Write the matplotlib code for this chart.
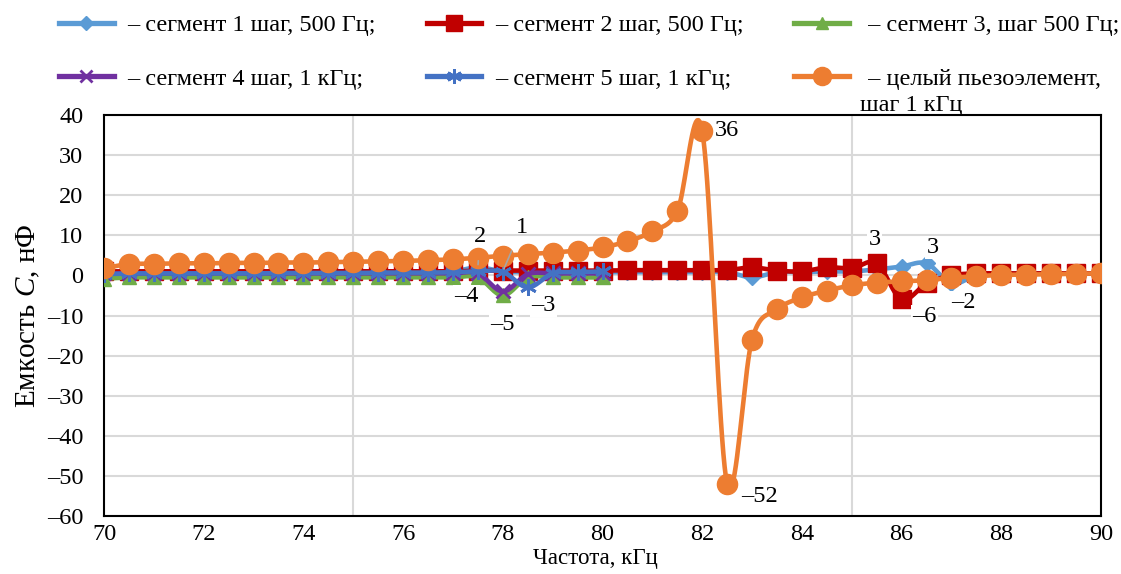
import numpy as np
import matplotlib
matplotlib.use("Agg")
import matplotlib.pyplot as plt
from matplotlib.lines import Line2D

plt.rcParams['font.family'] = ['Liberation Serif', 'DejaVu Serif']
plt.rcParams['mathtext.fontset'] = 'custom'
plt.rcParams['mathtext.rm'] = 'Liberation Serif'
plt.rcParams['mathtext.it'] = 'Liberation Serif:italic'

# ---------------- data ----------------
freq_full = [70 + 0.5 * i for i in range(41)]          # 70 ... 90 kHz
freq_half = [70 + 0.5 * i for i in range(21)]          # 70 ... 80 kHz

seg1 = [1.0, 1.0, 1.0, 1.0, 1.0, 1.0, 1.0, 1.0, 1.0, 1.0,
        1.0, 1.0, 1.0, 1.0, 1.0, 2.0, 1.0, 0.8, 0.8, 0.8,
        0.8, 0.8, 0.8, 0.8, 0.8, 0.8, -0.5, 0.8, 0.8, 1.0,
        1.0, 1.5, 2.2, 3.0, -2.0, 0.0, 0.5, 0.5, 0.5, 0.5, 0.5]
seg2 = [1.0, 1.0, 1.0, 1.0, 1.0, 1.0, 1.0, 1.0, 1.0, 1.0,
        1.0, 1.0, 1.0, 1.0, 1.0, 1.2, 1.2, 1.2, 1.2, 1.2,
        1.2, 1.3, 1.3, 1.3, 1.3, 1.3, 2.0, 1.2, 1.0, 2.0,
        1.8, 3.0, -6.0, -2.0, 0.0, 0.5, 0.5, 0.5, 0.5, 0.5, 0.5]
seg3 = [-0.8, -0.5, -0.5, -0.5, -0.5, -0.5, -0.5, -0.5, -0.5, -0.5,
        -0.5, -0.5, -0.5, -0.5, -0.5, -0.5, -5.0, -0.5, -0.5, -0.5, -0.5]
seg4 = [0.5, 0.5, 0.5, 0.5, 0.5, 0.5, 0.5, 0.5, 0.5, 0.5,
        0.5, 0.5, 0.5, 0.5, 0.5, 0.5, -4.0, 0.3, 0.5, 0.5, 0.5]
seg5 = [0.3, 0.5, 0.5, 0.5, 0.5, 0.5, 0.5, 0.6, 0.6, 0.6,
        0.6, 0.7, 0.7, 0.7, 0.8, 1.0, 0.9, -3.0, 0.5, 0.8, 1.0]
whole = [1.8, 2.8, 2.9, 3.0, 3.0, 3.1, 3.1, 3.2, 3.2, 3.3,
         3.4, 3.5, 3.6, 3.8, 4.0, 4.4, 4.9, 5.3, 5.7, 6.2,
         7.0, 8.5, 11.0, 16.0, 36.0, -52.0, -16.0, -8.5, -5.5, -3.8,
         -2.5, -1.8, -1.5, -1.2, -0.6, -0.2, 0.1, 0.2, 0.3, 0.4, 0.5]

labels = ["– сегмент 1 шаг, 500 Гц;", "– сегмент 2 шаг, 500 Гц;",
          " – сегмент 3, шаг 500 Гц;", "– сегмент 4 шаг, 1 кГц;",
          "– сегмент 5 шаг, 1 кГц;", " – целый пьезоэлемент,"]
label_cont = "шаг 1 кГц"

x_ticks = [70, 72, 74, 76, 78, 80, 82, 84, 86, 88, 90]
x_grid = [75, 80, 85]
y_ticks = [40, 30, 20, 10, 0, -10, -20, -30, -40, -50, -60]

# (series, index, text, dx px, dy px, leader)
point_labels = [
    ("whole", 24, "36", 25, 1, False),
    ("whole", 25, "–52", 32, -13, False),
    ("seg1", 15, "2", 2, 31, True),
    ("seg1", 16, "1", 19, 44, True),
    ("seg4", 16, "–4", -36, -5, False),
    ("seg3", 16, "–5", 0, -29, False),
    ("seg5", 17, "–3", 16, -18, False),
    ("seg2", 31, "3", -2, 24, False),
    ("seg2", 32, "–6", 23, -17, False),
    ("seg1", 33, "3", 6, 16, False),
    ("seg1", 34, "–2", 12, -19, False),
]


def smooth(x, y, n=20):
    """Excel-like smoothed line (Catmull-Rom Bezier)."""
    x = np.asarray(x, float)
    y = np.asarray(y, float)
    P = np.column_stack([x, y])
    out = []
    for i in range(len(P) - 1):
        p0 = P[i - 1] if i > 0 else P[i]
        p1 = P[i]
        p2 = P[i + 1]
        p3 = P[i + 2] if i + 2 < len(P) else P[i + 1]
        c1 = p1 + (p2 - p0) / 6.0
        c2 = p2 - (p3 - p1) / 6.0
        t = np.linspace(0, 1, n, endpoint=(i == len(P) - 2))[:, None]
        b = ((1 - t) ** 3) * p1 + 3 * ((1 - t) ** 2) * t * c1 + 3 * (1 - t) * t ** 2 * c2 + t ** 3 * p2
        out.append(b)
    B = np.vstack(out)
    return B[:, 0], B[:, 1]


FS = 17.5
W, H = 1121, 574
fig = plt.figure(figsize=(W / 100, H / 100), dpi=100)
ax = fig.add_axes([104 / W, 1 - 516 / H, (1101 - 104) / W, (516 - 115) / H])

styles = {
    "seg1": dict(color="#5B9BD5", marker="D", ms=8, mew=1, z=3),
    "seg2": dict(color="#C00000", marker="s", ms=12.5, mew=1, z=4),
    "seg3": dict(color="#70AD47", marker="^", ms=10, mew=1, z=5),
    "seg4": dict(color="#7030A0", marker="x", ms=10, mew=2, z=6),
    "seg5": dict(color="#4472C4", marker=(6, 2, 0), ms=12, mew=2, z=7),
    "whole": dict(color="#ED7D31", marker="o", ms=14.5, mew=1, z=8),
}
series = {
    "seg1": (freq_full, seg1),
    "seg2": (freq_full, seg2),
    "seg3": (freq_half, seg3),
    "seg4": (freq_half, seg4),
    "seg5": (freq_half, seg5),
    "whole": (freq_full, whole),
}

handles = {}
for name, (xs, ys) in series.items():
    st = styles[name]
    sx, sy = smooth(xs, ys)
    ax.plot(sx, sy, color=st["color"], lw=3.3, zorder=st["z"], solid_capstyle="round")
    ax.plot(xs, ys, linestyle="none", marker=st["marker"], ms=st["ms"],
            color=st["color"], mec=st["color"], mew=st["mew"], zorder=st["z"])
    handles[name] = Line2D([], [], color=st["color"], lw=3.8, marker=st["marker"],
                           ms=st["ms"] * 0.9, mew=st["mew"], mec=st["color"])

for name, idx, txt, dx, dy, leader in point_labels:
    xs, ys = series[name]
    kw = {}
    if leader:
        kw["arrowprops"] = dict(arrowstyle="-", color="#a6a6a6", lw=1.2, shrinkA=8, shrinkB=2)
    else:
        kw["bbox"] = dict(boxstyle="square,pad=0.05", fc="white", ec="none")
    ax.annotate(txt, xy=(xs[idx], ys[idx]), xytext=(dx * 0.72, dy * 0.72),
                textcoords="offset points", ha="center", va="center", fontsize=FS,
                zorder=20, **kw)

ax.set_xlim(70, 90)
ax.set_ylim(-60, 40)
ax.set_xticks(x_ticks)
ax.set_xticklabels([str(v) for v in x_ticks])
ax.set_xticks(x_grid, minor=True)
ax.set_yticks(y_ticks)
ax.set_yticklabels([str(v).replace("-", "–") for v in y_ticks])
ax.grid(axis="y", which="major", color="#d9d9d9", lw=1.5, zorder=0)
ax.grid(axis="x", which="minor", color="#d9d9d9", lw=1.5, zorder=0)
ax.set_axisbelow(True)
ax.tick_params(axis="both", which="both", length=0, labelsize=FS)
ax.tick_params(axis="y", pad=15)
ax.tick_params(axis="x", pad=6)
for sp in ax.spines.values():
    sp.set_color("black")
    sp.set_linewidth(1.5)

ax.set_xlabel("Частота, кГц", fontsize=16.5)
ax.xaxis.set_label_coords((595 - 104) / 997, -(548 - 516) / 401)
ax.set_ylabel("Емкость $\\mathit{C}$, нФ", fontsize=21)
ax.yaxis.set_label_coords(-(104 - 42) / 997, 0.5)

order = ["seg1", "seg4", "seg2", "seg5", "seg3", "whole"]
lab_map = dict(zip(["seg1", "seg2", "seg3", "seg4", "seg5", "whole"], labels))
leg = fig.legend([handles[k] for k in order], [lab_map[k] for k in order], ncol=3,
                 loc="upper left", bbox_to_anchor=(59 / W, 1 - 14 / H), frameon=False,
                 fontsize=FS, handlelength=2.25, handletextpad=0.55, columnspacing=2.1,
                 labelspacing=1.3, borderpad=0, borderaxespad=0)

fig.canvas.draw()
t_last = [t for t in leg.get_texts() if t.get_text() == labels[5]][0]
bb = t_last.get_window_extent()
fig.text((bb.x0 - 2) / W, (bb.y0 + bb.y1) / 2 / H - 26 / H, label_cont,
         fontsize=FS, ha="left", va="center")

fig.savefig("out.png", dpi=100)
